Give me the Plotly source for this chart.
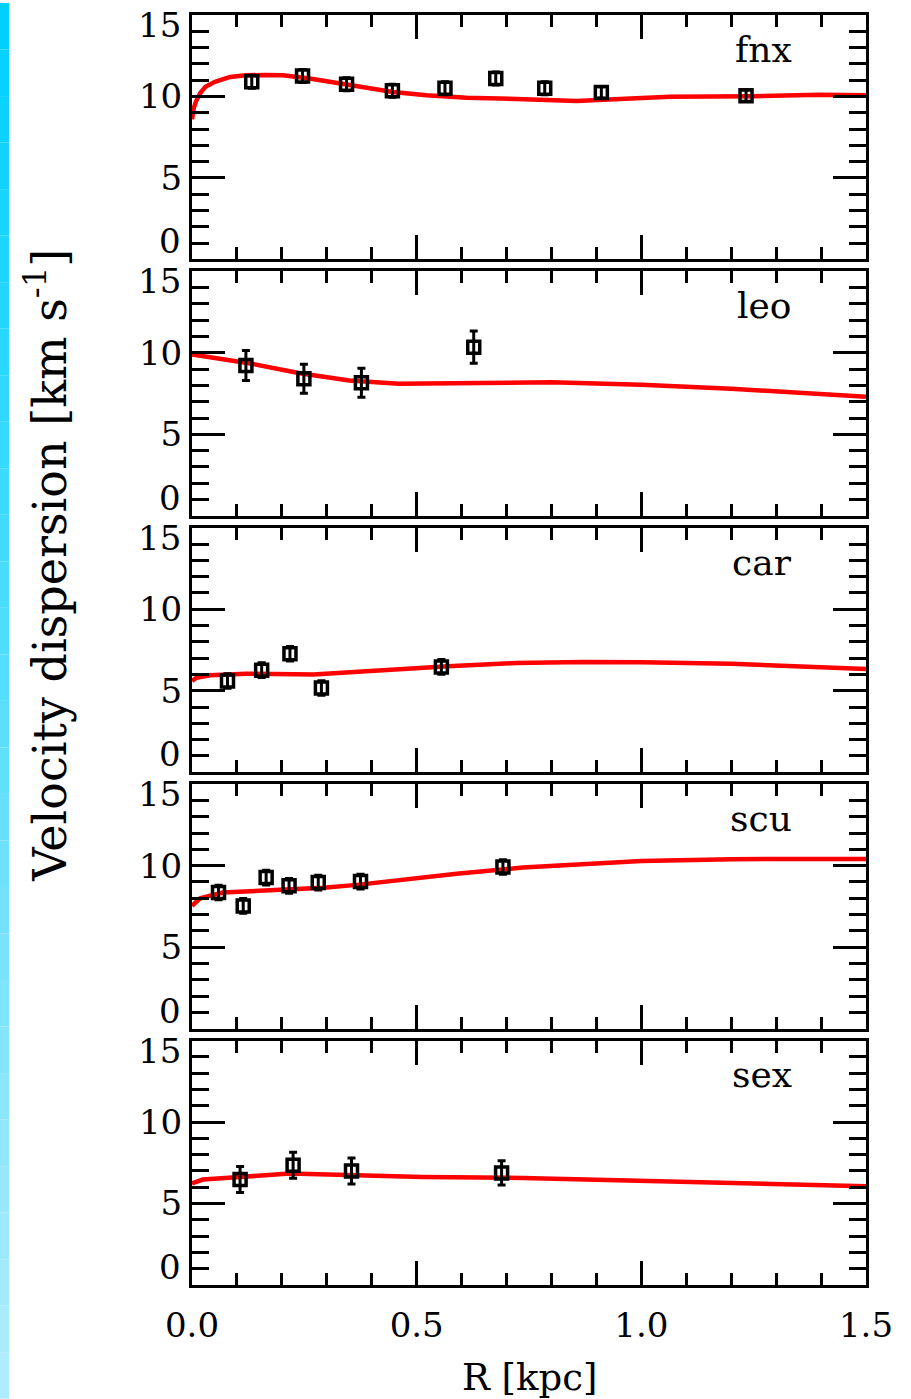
import plotly.graph_objects as go
from plotly.subplots import make_subplots

# ---------------- data ----------------
galaxies = ["fnx", "leo", "car", "scu", "sex"]

fnx_R = [0.133, 0.246, 0.344, 0.446, 0.563, 0.676, 0.785, 0.911, 1.233]
fnx_sig = [10.9, 11.25, 10.75, 10.35, 10.5, 11.1, 10.5, 10.25, 10.05]
fnx_err = [0.4, 0.4, 0.4, 0.4, 0.4, 0.4, 0.4, 0.35, 0.35]
fnx_mR = [0.0, 0.004, 0.009, 0.018, 0.03, 0.051, 0.085, 0.12, 0.162, 0.202, 0.262,
          0.329, 0.389, 0.447, 0.522, 0.611, 0.723, 0.856, 0.952, 1.063, 1.247, 1.396, 1.5]
fnx_mod = [8.6, 9.3, 9.7, 10.2, 10.6, 10.9, 11.2, 11.3, 11.32, 11.3, 11.1,
           10.8, 10.5, 10.27, 10.08, 9.92, 9.85, 9.72, 9.85, 9.98, 10.02, 10.1, 10.08]

leo_R = [0.120, 0.249, 0.377, 0.627]
leo_sig = [9.23, 8.41, 8.16, 10.35]
leo_err = [0.92, 0.89, 0.89, 0.99]
leo_mR = [0.0, 0.13, 0.24, 0.35, 0.46, 0.65, 0.8, 1.0, 1.2, 1.5]
leo_mod = [9.9, 9.35, 8.75, 8.3, 8.1, 8.14, 8.2, 8.05, 7.8, 7.3]

car_R = [0.079, 0.155, 0.218, 0.288, 0.555]
car_sig = [5.60, 6.26, 7.27, 5.17, 6.46]
car_err = [0.45, 0.45, 0.45, 0.45, 0.45]
car_mR = [0.0, 0.01, 0.04, 0.12, 0.27, 0.42, 0.57, 0.72, 0.87, 1.0, 1.2, 1.5]
car_mod = [5.6, 5.8, 5.95, 6.05, 6.0, 6.26, 6.5, 6.7, 6.77, 6.75, 6.65, 6.34]

scu_R = [0.059, 0.114, 0.165, 0.216, 0.281, 0.375, 0.692]
scu_sig = [8.35, 7.53, 9.27, 8.76, 8.96, 9.02, 9.92]
scu_err = [0.45, 0.45, 0.45, 0.45, 0.45, 0.45, 0.45]
scu_mR = [0.0, 0.018, 0.069, 0.144, 0.218, 0.292, 0.367, 0.441, 0.589, 0.736, 0.885, 1.0, 1.2, 1.5]
scu_mod = [7.53, 8.0, 8.35, 8.45, 8.55, 8.65, 8.82, 9.06, 9.51, 9.88, 10.12, 10.29, 10.4, 10.41]

sex_R = [0.107, 0.225, 0.355, 0.689]
sex_sig = [6.47, 7.35, 7.00, 6.88]
sex_err = [0.8, 0.8, 0.8, 0.75]
sex_mR = [0.0, 0.024, 0.107, 0.218, 0.366, 0.514, 0.736, 0.885, 1.0, 1.5]
sex_mod = [6.23, 6.47, 6.63, 6.84, 6.74, 6.63, 6.57, 6.47, 6.43, 6.06]

x_ticks = [0.0, 0.5, 1.0, 1.5]
x_ticklabels = ["0.0", "0.5", "1.0", "1.5"]
y_major = [5, 10]

panels = [
    (fnx_R, fnx_sig, fnx_err, fnx_mR, fnx_mod),
    (leo_R, leo_sig, leo_err, leo_mR, leo_mod),
    (car_R, car_sig, car_err, car_mR, car_mod),
    (scu_R, scu_sig, scu_err, scu_mR, scu_mod),
    (sex_R, sex_sig, sex_err, sex_mR, sex_mod),
]

# ---------------- figure ----------------
W, H = 911, 1399
ML, MR, MT, MB = 192, 45, 12, 114
FONT = "DejaVu Serif"
FS = 34

plot_h = H - MT - MB
plot_w = W - ML - MR
panel_h = 245.0
gap = 12.0


def clamp(v):
    return min(1.0, max(0.0, round(v, 6)))


fig = make_subplots(rows=5, cols=1, shared_xaxes=True)

for i, (R, s, e, mR, mod) in enumerate(panels):
    row = i + 1
    fig.add_trace(go.Scatter(
        x=mR, y=mod, mode="lines",
        line=dict(color="#ff0000", width=4.5),
        showlegend=False, hoverinfo="skip"), row=row, col=1)
    fig.add_trace(go.Scatter(
        x=R, y=s, mode="markers",
        marker=dict(symbol="square-open", size=12, color="black",
                    line=dict(color="black", width=3.5)),
        error_y=dict(type="data", array=e, visible=True, color="black",
                     thickness=3, width=4),
        showlegend=False), row=row, col=1)

    top_px = MT + i * (panel_h + gap)
    y1 = 1 - (top_px - MT) / plot_h
    y0 = y1 - panel_h / plot_h
    ax_suffix = "" if row == 1 else str(row)
    fig.layout["yaxis" + ax_suffix].update(domain=[clamp(y0), clamp(y1)])

    # panel name
    fig.add_annotation(
        text=galaxies[i], xref="x" + ax_suffix + " domain", yref="y" + ax_suffix + " domain",
        x=0.893, y=0.86, xanchor="right", yanchor="middle", showarrow=False,
        font=dict(family=FONT, size=36, color="black"))
    # edge tick labels (0 and 15 placed inside the panel limits)
    fig.add_annotation(
        text="0", xref="x" + ax_suffix + " domain", yref="y" + ax_suffix,
        x=0, y=0, xanchor="right", yanchor="bottom", xshift=-9, yshift=-4,
        showarrow=False, font=dict(family=FONT, size=FS, color="black"))
    fig.add_annotation(
        text="15", xref="x" + ax_suffix + " domain", yref="y" + ax_suffix,
        x=0, y=15, xanchor="right", yanchor="top", xshift=-9, yshift=12,
        showarrow=False, font=dict(family=FONT, size=FS, color="black"))

xaxis_common = dict(
    range=[0, 1.5], showline=True, linecolor="black", linewidth=3, mirror="allticks",
    ticks="inside", ticklen=24, tickwidth=3, tickcolor="black",
    tickvals=x_ticks,
    minor=dict(dtick=0.1, ticks="inside", ticklen=12, tickwidth=3, tickcolor="black"),
    showgrid=False, zeroline=False,
)
yaxis_common = dict(
    range=[0, 15], showline=True, linecolor="black", linewidth=3, mirror="allticks",
    ticks="inside", ticklen=33, tickwidth=3, tickcolor="black",
    tickvals=y_major, ticktext=[str(v) for v in y_major],
    minor=dict(dtick=1, ticks="inside", ticklen=17, tickwidth=3, tickcolor="black"),
    showgrid=False, zeroline=False,
    tickfont=dict(family=FONT, size=FS, color="black"),
    ticklabelstandoff=0,
)
for r in range(1, 6):
    sfx = "" if r == 1 else str(r)
    fig.layout["xaxis" + sfx].update(**xaxis_common)
    fig.layout["yaxis" + sfx].update(**yaxis_common)
    fig.layout["xaxis" + sfx].update(showticklabels=(r == 5))

fig.layout["xaxis5"].update(
    ticktext=x_ticklabels, tickfont=dict(family=FONT, size=FS, color="black"),
    ticklabelstandoff=8)

# axis titles
fig.add_annotation(text="R [kpc]", xref="paper", yref="paper", x=0.5,
                   y=-(1378 - (H - MB)) / plot_h, xanchor="center", yanchor="middle",
                   showarrow=False, font=dict(family=FONT, size=37, color="black"))
fig.add_annotation(text="Velocity dispersion [km s<sup>-1</sup>]", xref="paper", yref="paper",
                   x=(46 - ML) / plot_w, y=((H - MB) - 564) / plot_h,
                   xanchor="center", yanchor="middle", textangle=-90, showarrow=False,
                   font=dict(family=FONT, size=46, color="black"))

# decorative cyan strip on the left edge (gradient bands)
n_band = 30
c_top = (0, 208, 255)
c_bot = (175, 236, 255)
for k in range(n_band):
    t = k / (n_band - 1)
    col = tuple(int(round(c_top[j] + (c_bot[j] - c_top[j]) * t)) for j in range(3))
    fig.add_shape(type="rect", xref="paper", yref="paper",
                  x0=-ML / plot_w, x1=(9 - ML) / plot_w,
                  y0=1 + MT / plot_h - (k + 1) * (H / plot_h) / n_band,
                  y1=1 + MT / plot_h - k * (H / plot_h) / n_band,
                  line=dict(width=0), fillcolor="rgb(%d,%d,%d)" % col, layer="below")

fig.update_layout(
    width=W, height=H, margin=dict(l=ML, r=MR, t=MT, b=MB),
    paper_bgcolor="white", plot_bgcolor="white",
    font=dict(family=FONT, size=FS, color="black"),
)

fig.write_html("out.html")
